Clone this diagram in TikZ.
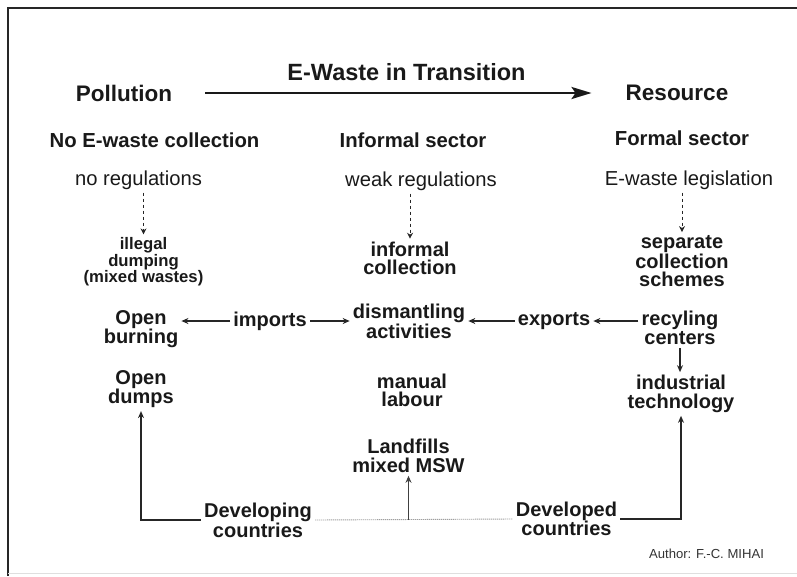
\documentclass[tikz,border=0pt]{standalone}
\usepackage{fontspec}
\setmainfont{Liberation Sans}
\usetikzlibrary{arrows.meta}
\begin{document}
\begin{tikzpicture}[x=1pt,y=-1pt,
  lbl/.style={font=\fontsize{20}{18.5}\selectfont\bfseries, align=center, inner sep=3pt, text=black!90},
  small/.style={font=\fontsize{16.7}{15.5}\selectfont\bfseries, align=center, inner sep=3pt, text=black!90},
  head/.style={font=\fontsize{20.3}{22}\selectfont\bfseries, inner sep=3pt, text=black!90},
  big/.style={font=\fontsize{22.5}{24}\selectfont\bfseries, inner sep=3pt, text=black!90},
  reg/.style={font=\fontsize{20.2}{22}\selectfont, inner sep=3pt, text=black!90},
  mainarrow/.style={line width=2.6pt, black!90, -{Stealth[length=20pt,width=12pt,inset=4pt]}},
  arr/.style={line width=1.3pt, black!85, -{Stealth[length=7pt,width=6pt]}},
  dasharr/.style={line width=1pt, black!85, dash pattern=on 3.5pt off 2.5pt, -{Stealth[length=6pt,width=6pt]}},
  dotline/.style={line width=0.9pt, gray!75, dash pattern=on 1.2pt off 0.8pt}
]
\useasboundingbox (0,0) rectangle (797,576);
\draw[line width=2pt, black!85] (8,576) -- (8,8) -- (797,8);
\draw[line width=1pt, gray!25] (8,573) -- (797,573);

\node[big, font=\fontsize{23.5}{25}\selectfont\bfseries] (title) at (406.5,72) {E-Waste in Transition};
\node[big] (pollution) at (124,93) {Pollution};
\node[big] (resource) at (677,93) {Resource};

\node[head] (noecoll) at (154.5,140) {No E-waste collection};
\node[head] (informal) at (413,140) {Informal sector};
\node[head] (formal) at (682,138) {Formal sector};

\node[reg] (noreg) at (138.5,180) {no regulations};
\node[reg] (weakreg) at (421,181) {weak regulations};
\node[reg] (legis) at (689,180) {E-waste legislation};

\node[small] (illegal) at (143.5,262) {illegal\\dumping\\(mixed wastes)};
\node[lbl] (infcoll) at (410,258.5) {informal\\collection};
\node[lbl] (separate) at (682,261) {separate\\collection\\schemes};

\node[lbl] (burning) at (141,329) {Open\\burning};
\node[lbl] (imports) at (270,321) {imports};
\node[lbl] (dismantling) at (409,321.5) {dismantling\\activities};
\node[lbl] (exports) at (554,321) {exports};
\node[lbl] (recycling) at (680,328) {recyling\\centers};

\node[lbl] (dumps) at (141,389) {Open\\dumps};
\node[lbl] (manual) at (412,390.5) {manual\\labour};
\node[lbl] (industrial) at (681,394) {industrial\\technology};

\node[lbl] (landfills) at (408.5,456) {Landfills\\mixed MSW};

\node[lbl] (developing) at (258,520) {Developing\\countries};
\node[lbl] (developed) at (566.5,519) {Developed\\countries};

\node[font=\fontsize{13.1}{14}\selectfont, text=black!80, inner sep=0pt] (author) at (706.5,554) {Author: F.-C. MIHAI};

% main arrow
\draw[mainarrow, shorten <=30pt, shorten >=31pt] (pollution.east) -- (pollution.east -| resource.west);

% dashed arrows
\draw[dasharr] (noreg.south -| illegal.north) -- (illegal.north);
\draw[dasharr] (weakreg.south -| infcoll.north) -- (infcoll.north);
\draw[dasharr] (legis.south -| separate.north) -- (separate.north);

% imports / exports
\draw[arr] (imports.west) -- (imports.west -| burning.east);
\draw[arr] (imports.east) -- (imports.east -| dismantling.west);
\draw[arr] (exports.west) -- (exports.west -| dismantling.east);
\draw[arr] (exports.east -| recycling.west) -- (exports.east);

% recycling to industrial
\draw[arr] (recycling.south) -- (recycling.south |- industrial.north);

% bottom connectors
\draw[arr] (developing.west) -| (dumps.south);
\draw[arr] (developed.east) -| (industrial.south);
\draw[dotline] (developing.east) -- (developed.west);
\draw[arr, line width=1pt, black!75] (landfills.south |- developing.east) -- (landfills.south);
\end{tikzpicture}
\end{document}
